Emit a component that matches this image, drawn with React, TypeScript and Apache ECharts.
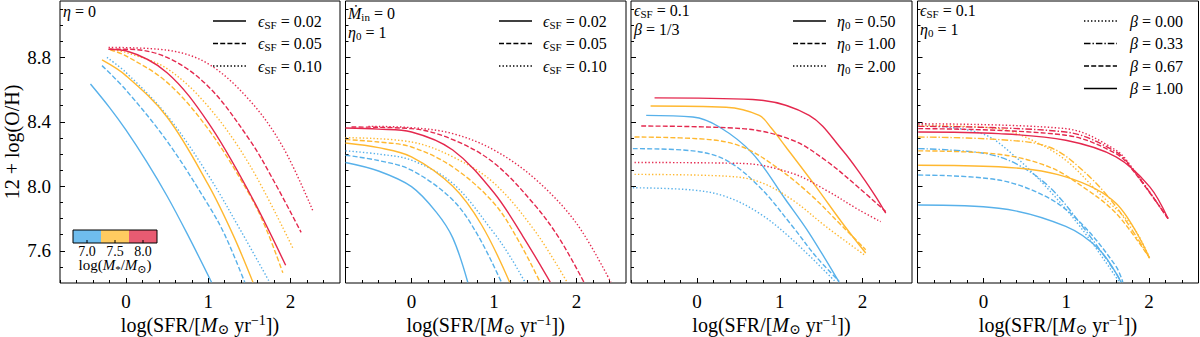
import React, { useEffect, useRef } from 'react';
import * as echarts from 'echarts';

// ---------- tick values & labels ----------
const X_MAJOR = [0, 1, 2];
const X_MINOR = [-0.8, -0.6, -0.4, -0.2, 0.2, 0.4, 0.6, 0.8, 1.2, 1.4, 1.6, 1.8, 2.2, 2.4];
const Y_MAJOR = [7.6, 8.0, 8.4, 8.8];
const Y_MINOR = [7.5, 7.7, 7.8, 7.9, 8.1, 8.2, 8.3, 8.5, 8.6, 8.7, 8.9, 9.0, 9.1];
const MASS_TICKS = ['7.0', '7.5', '8.0'];
const EPS_LABELS = ['0.02', '0.05', '0.10'];
const ETA_LABELS = ['0.50', '1.00', '2.00'];
const BETA_LABELS = ['0.00', '0.33', '0.67', '1.00'];

// ---------- panel 1 : eta = 0 ----------
const p1_m70_e002 = [[-0.43, 8.635], [-0.2, 8.49], [0, 8.35], [0.25, 8.155], [0.5, 7.94], [0.75, 7.7], [1.04, 7.405]];
const p1_m70_e005 = [[-0.29, 8.749], [0, 8.598], [0.5, 8.28], [1.0, 7.885], [1.2, 7.7], [1.443, 7.405]];
const p1_m70_e010 = [[-0.23, 8.8], [0, 8.707], [0.5, 8.44], [1.0, 8.07], [1.4, 7.72], [1.745, 7.405]];
const p1_m75_e002 = [[-0.29, 8.784], [0, 8.687], [0.5, 8.43], [1.0, 8.01], [1.3, 7.7], [1.543, 7.405]];
const p1_m75_e005 = [[-0.19, 8.847], [0, 8.81], [0.5, 8.645], [1.0, 8.355], [1.5, 7.95], [1.7, 7.74], [1.906, 7.463]];
const p1_m75_e010 = [[-0.19, 8.851], [0, 8.831], [0.5, 8.73], [1.0, 8.495], [1.5, 8.135], [2.027, 7.617]];
const p1_m80_e002 = [[-0.21, 8.851], [0, 8.841], [0.5, 8.705], [1.0, 8.395], [1.5, 7.96], [1.94, 7.51]];
const p1_m80_e005 = [[-0.21, 8.851], [0, 8.851], [0.5, 8.8], [1.0, 8.62], [1.5, 8.29], [1.8, 8.03], [2.128, 7.714]];
const p1_m80_e010 = [[-0.21, 8.862], [0.5, 8.845], [1.0, 8.76], [1.5, 8.535], [1.9, 8.25], [2.27, 7.849]];

// ---------- panel 2 : Mdot_in = 0, eta0 = 1 ----------
const p2_m70_e002 = [[-0.8, 8.148], [-0.4, 8.095], [0, 7.998], [0.3, 7.84], [0.5, 7.68], [0.682, 7.405]];
const p2_m70_e005 = [[-0.8, 8.193], [-0.4, 8.16], [0, 8.1], [0.5, 7.915], [0.8, 7.7], [1.09, 7.405]];
const p2_m70_e010 = [[-0.8, 8.22], [-0.4, 8.2], [0, 8.162], [0.5, 8.018], [1.0, 7.71], [1.2, 7.56], [1.376, 7.405]];
const p2_m75_e002 = [[-0.8, 8.269], [-0.4, 8.24], [0, 8.183], [0.5, 8.0], [0.85, 7.76], [1.19, 7.405]];
const p2_m75_e005 = [[-0.8, 8.29], [-0.4, 8.275], [0, 8.244], [0.5, 8.12], [1.0, 7.895], [1.3, 7.66], [1.559, 7.405]];
const p2_m75_e010 = [[-0.8, 8.302], [0, 8.275], [0.5, 8.183], [1.0, 8.02], [1.5, 7.72], [1.886, 7.405]];
const p2_m80_e002 = [[-0.8, 8.362], [-0.4, 8.355], [0, 8.337], [0.5, 8.225], [1.0, 7.96], [1.35, 7.69], [1.682, 7.405]];
const p2_m80_e005 = [[-0.727, 8.368], [0, 8.358], [0.5, 8.29], [1.0, 8.145], [1.5, 7.88], [1.8, 7.67], [2.09, 7.405]];
const p2_m80_e010 = [[-0.522, 8.372], [0, 8.364], [0.5, 8.327], [1.0, 8.225], [1.5, 8.045], [2.0, 7.77], [2.416, 7.405]];

// ---------- panel 3 : eps = 0.1, beta = 1/3 ----------
const p3_m70_h050 = [[-0.616, 8.44], [-0.052, 8.43], [0.27, 8.368], [0.672, 8.203], [1.074, 7.915], [1.356, 7.71], [1.718, 7.405]];
const p3_m70_h100 = [[-0.777, 8.234], [-0.052, 8.22], [0.35, 8.162], [0.752, 7.998], [1.155, 7.751], [1.437, 7.565], [1.718, 7.411]];
const p3_m70_h200 = [[-0.777, 7.991], [-0.052, 7.977], [0.35, 7.936], [0.752, 7.833], [1.155, 7.668], [1.678, 7.405]];
const p3_m75_h050 = [[-0.563, 8.498], [0.35, 8.491], [0.752, 8.44], [0.9, 8.36], [1.074, 8.244], [1.437, 7.998], [1.759, 7.771], [2.04, 7.586]];
const p3_m75_h100 = [[-0.757, 8.306], [0.149, 8.29], [0.551, 8.244], [0.954, 8.121], [1.356, 7.956], [1.759, 7.751], [2.04, 7.607]];
const p3_m75_h200 = [[-0.757, 8.074], [0.35, 8.063], [0.752, 8.028], [1.155, 7.915], [1.557, 7.751], [2.02, 7.576]];
const p3_m80_h050 = [[-0.515, 8.549], [0.672, 8.539], [1.356, 8.44], [1.759, 8.224], [2.0, 8.059], [2.161, 7.936], [2.282, 7.833]];
const p3_m80_h100 = [[-0.676, 8.374], [0.551, 8.358], [1.155, 8.286], [1.557, 8.16], [1.96, 7.99], [2.282, 7.843]];
const p3_m80_h200 = [[-0.757, 8.148], [0.551, 8.142], [1.155, 8.08], [1.557, 7.977], [1.96, 7.853], [2.221, 7.781]];

// ---------- panel 4 : eps = 0.1, eta0 = 1 ----------
const p4_m70_b000 = [[-0.791, 8.384], [-0.02, 8.327], [0.385, 8.183], [0.791, 7.977], [1.197, 7.73], [1.643, 7.405]];
const p4_m70_b033 = [[-0.791, 8.234], [-0.02, 8.207], [0.385, 8.142], [0.791, 7.998], [1.197, 7.751], [1.602, 7.462], [1.663, 7.405]];
const p4_m70_b067 = [[-0.791, 8.07], [0.183, 8.039], [0.791, 7.926], [1.197, 7.761], [1.602, 7.503], [1.684, 7.405]];
const p4_m70_b100 = [[-0.791, 7.884], [0.183, 7.864], [0.994, 7.751], [1.4, 7.607], [1.663, 7.405]];
const p4_m75_b000 = [[-0.791, 8.378], [0.183, 8.358], [0.588, 8.286], [0.994, 8.162], [1.4, 7.956], [1.805, 7.75], [2.008, 7.555]];
const p4_m75_b033 = [[-0.791, 8.306], [0.183, 8.29], [0.791, 8.244], [1.197, 8.1], [1.602, 7.874], [2.008, 7.555]];
const p4_m75_b067 = [[-0.791, 8.22], [0.183, 8.199], [0.791, 8.121], [1.197, 7.998], [1.602, 7.833], [2.008, 7.555]];
const p4_m75_b100 = [[-0.791, 8.131], [0.183, 8.121], [0.994, 8.059], [1.602, 7.895], [2.008, 7.555]];
const p4_m80_b000 = [[-0.791, 8.388], [0.994, 8.358], [1.602, 8.224], [1.805, 8.11], [2.231, 7.8]];
const p4_m80_b033 = [[-0.791, 8.372], [0.994, 8.337], [1.602, 8.214], [1.805, 8.105], [2.231, 7.8]];
const p4_m80_b067 = [[-0.791, 8.358], [0.994, 8.317], [1.602, 8.203], [1.805, 8.1], [2.231, 7.8]];
const p4_m80_b100 = [[-0.791, 8.337], [0.183, 8.327], [0.994, 8.286], [1.602, 8.183], [2.008, 7.998], [2.231, 7.8]];

// ---------- styling ----------
const BLUE = '#58B1EA';
const YELLOW = '#FFB830';
const RED = '#E4284E';
const CB_COLORS = ['#6FBDEE', '#FFCB60', '#E85B72'];
const FONT = '"Liberation Serif", "DejaVu Serif", serif';
const SOLID: any = 'solid';
const DASHED = [5, 2.2];
const DOTTED = [1.4, 2.1];
const DASHDOT = [6.5, 2, 1.4, 2];

const PANELS = [
  { left: 60, width: 280 },
  { left: 345.5, width: 280.5 },
  { left: 631, width: 281 },
  { left: 917.5, width: 281 },
];
const TOP = 1;
const HEIGHT = 282;
const X_RANGE = [-0.8, 2.6];
const Y_RANGE = [7.4, 9.15];

type Curve = { data: number[][]; color: string; dash: any };

const CURVES: Curve[][] = [
  [
    { data: p1_m70_e002, color: BLUE, dash: SOLID },
    { data: p1_m70_e005, color: BLUE, dash: DASHED },
    { data: p1_m70_e010, color: BLUE, dash: DOTTED },
    { data: p1_m75_e002, color: YELLOW, dash: SOLID },
    { data: p1_m75_e005, color: YELLOW, dash: DASHED },
    { data: p1_m75_e010, color: YELLOW, dash: DOTTED },
    { data: p1_m80_e002, color: RED, dash: SOLID },
    { data: p1_m80_e005, color: RED, dash: DASHED },
    { data: p1_m80_e010, color: RED, dash: DOTTED },
  ],
  [
    { data: p2_m70_e002, color: BLUE, dash: SOLID },
    { data: p2_m70_e005, color: BLUE, dash: DASHED },
    { data: p2_m70_e010, color: BLUE, dash: DOTTED },
    { data: p2_m75_e002, color: YELLOW, dash: SOLID },
    { data: p2_m75_e005, color: YELLOW, dash: DASHED },
    { data: p2_m75_e010, color: YELLOW, dash: DOTTED },
    { data: p2_m80_e002, color: RED, dash: SOLID },
    { data: p2_m80_e005, color: RED, dash: DASHED },
    { data: p2_m80_e010, color: RED, dash: DOTTED },
  ],
  [
    { data: p3_m70_h050, color: BLUE, dash: SOLID },
    { data: p3_m70_h100, color: BLUE, dash: DASHED },
    { data: p3_m70_h200, color: BLUE, dash: DOTTED },
    { data: p3_m75_h050, color: YELLOW, dash: SOLID },
    { data: p3_m75_h100, color: YELLOW, dash: DASHED },
    { data: p3_m75_h200, color: YELLOW, dash: DOTTED },
    { data: p3_m80_h050, color: RED, dash: SOLID },
    { data: p3_m80_h100, color: RED, dash: DASHED },
    { data: p3_m80_h200, color: RED, dash: DOTTED },
  ],
  [
    { data: p4_m70_b000, color: BLUE, dash: DOTTED },
    { data: p4_m70_b033, color: BLUE, dash: DASHDOT },
    { data: p4_m70_b067, color: BLUE, dash: DASHED },
    { data: p4_m70_b100, color: BLUE, dash: SOLID },
    { data: p4_m75_b000, color: YELLOW, dash: DOTTED },
    { data: p4_m75_b033, color: YELLOW, dash: DASHDOT },
    { data: p4_m75_b067, color: YELLOW, dash: DASHED },
    { data: p4_m75_b100, color: YELLOW, dash: SOLID },
    { data: p4_m80_b000, color: RED, dash: DOTTED },
    { data: p4_m80_b033, color: RED, dash: DASHDOT },
    { data: p4_m80_b067, color: RED, dash: DASHED },
    { data: p4_m80_b100, color: RED, dash: SOLID },
  ],
];

function rich(size: number) {
  return {
    r: { fontFamily: FONT, fontSize: size, fill: '#000' },
    i: { fontFamily: FONT, fontSize: size, fontStyle: 'italic', fill: '#000' },
    s: { fontFamily: FONT, fontSize: Math.round(size * 0.7), padding: [Math.round(size * 0.45), 0, 0, 0], fill: '#000' },
    p: { fontFamily: FONT, fontSize: Math.round(size * 0.7), padding: [0, 0, Math.round(size * 0.5), 0], fill: '#000' },
  };
}

function txt(x: number, y: number, text: string, size: number, align = 'left', extra: any = {}) {
  return {
    type: 'text',
    silent: true,
    ...extra,
    style: {
      x, y, text,
      fontFamily: FONT, fontSize: size, fill: '#000',
      align, verticalAlign: 'middle',
      rich: rich(size),
    },
  };
}

function legendRows(lineX: number, labelX: number, rows: { label: string; dash: any }[], y0: number, dy: number) {
  const out: any[] = [];
  rows.forEach((r, k) => {
    const y = y0 + k * dy;
    out.push({
      type: 'line', silent: true,
      shape: { x1: lineX, y1: y, x2: lineX + 33, y2: y },
      style: { stroke: '#000', lineWidth: 1.5, lineDash: r.dash === SOLID ? null : r.dash },
    });
    out.push(txt(labelX, y, r.label, 16));
  });
  return out;
}

export default function App() {
  const ref = useRef<HTMLDivElement>(null);
  useEffect(() => {
    if (!ref.current) return;
    document.body.style.margin = '0';
    const chart = echarts.init(ref.current, undefined, { renderer: 'svg', width: 1200, height: 337 });

    const grid: any[] = [];
    const xAxis: any[] = [];
    const yAxis: any[] = [];
    const series: any[] = [];

    const addGrid = (p: { left: number; width: number }, visible: boolean, xTicks: number[], yTicks: number[], tickLen: number, labels: { x: boolean; y: boolean }) => {
      const gi = grid.length;
      grid.push({ left: p.left, top: TOP, width: p.width, height: HEIGHT, show: visible, borderColor: '#000', borderWidth: 1, backgroundColor: 'transparent' });
      xAxis.push({
        gridIndex: gi, type: 'value', min: X_RANGE[0], max: X_RANGE[1], position: 'bottom',
        axisLine: { show: false, onZero: false }, splitLine: { show: false },
        axisTick: { show: true, inside: true, length: tickLen, customValues: xTicks, lineStyle: { color: '#000', width: 1 } },
        axisLabel: { show: labels.x, customValues: xTicks, fontFamily: FONT, fontSize: 19, color: '#000', margin: 9, formatter: (v: number) => String(Math.round(v)) },
      });
      yAxis.push({
        gridIndex: gi, type: 'value', min: Y_RANGE[0], max: Y_RANGE[1], position: 'left',
        axisLine: { show: false, onZero: false }, splitLine: { show: false },
        axisTick: { show: true, inside: true, length: tickLen, customValues: yTicks, lineStyle: { color: '#000', width: 1 } },
        axisLabel: { show: labels.y, customValues: yTicks, fontFamily: FONT, fontSize: 19, color: '#000', margin: 9, formatter: (v: number) => v.toFixed(1) },
      });
      return gi;
    };

    PANELS.forEach((p, i) => {
      const gi = addGrid(p, true, X_MAJOR, Y_MAJOR, 5, { x: true, y: i === 0 });
      addGrid(p, false, X_MINOR, Y_MINOR, 3, { x: false, y: false });
      CURVES[i].forEach((c) => {
        series.push({
          type: 'line', xAxisIndex: gi, yAxisIndex: gi,
          data: c.data, smooth: 0.35, showSymbol: false, symbol: 'none', silent: true,
          clip: true,
          lineStyle: { color: c.color, width: 1.4, type: c.dash },
        });
      });
    });

    const graphic: any[] = [];
    PANELS.forEach((p) => {
      graphic.push(txt(p.left + p.width / 2, 325, '{r|log(SFR/[}{i|M}{s|⊙}{r| yr}{p|−1}{r|])}', 20, 'center'));
    });
    graphic.push({
      type: 'text', silent: true, x: 12, y: 142, rotation: Math.PI / 2,
      style: { x: 0, y: 0, text: '12 + log(O/H)', fontFamily: FONT, fontSize: 20, fill: '#000', align: 'center', verticalAlign: 'middle' },
    });

    graphic.push(txt(63, 11, '{i|η}{r| = 0}', 16));
    graphic.push(txt(348, 13, '{i|Ṁ}{s|in}{r| = 0}', 16));
    graphic.push(txt(348, 32, '{i|η}{s|0}{r| = 1}', 16));
    graphic.push(txt(634, 10, '{i|ϵ}{s|SF}{r| = 0.1}', 16));
    graphic.push(txt(634, 29, '{i|β}{r| = 1/3}', 16));
    graphic.push(txt(920, 10, '{i|ϵ}{s|SF}{r| = 0.1}', 16));
    graphic.push(txt(920, 29, '{i|η}{s|0}{r| = 1}', 16));

    const epsRows = EPS_LABELS.map((l, k) => ({ label: `{i|ϵ}{s|SF}{r| = ${l}}`, dash: [SOLID, DASHED, DOTTED][k] }));
    graphic.push(...legendRows(213, 258, epsRows, 21, 22.5));
    graphic.push(...legendRows(499, 543, epsRows, 21, 22.5));
    const etaRows = ETA_LABELS.map((l, k) => ({ label: `{i|η}{s|0}{r| = ${l}}`, dash: [SOLID, DASHED, DOTTED][k] }));
    graphic.push(...legendRows(793, 837, etaRows, 21, 22.5));
    const betaRows = BETA_LABELS.map((l, k) => ({ label: `{i|β}{r| = ${l}}`, dash: [DOTTED, DASHDOT, DASHED, SOLID][k] }));
    graphic.push(...legendRows(1084, 1130, betaRows, 21, 22.5));

    const cbX = 73, cbY = 230, cbW = 84, cbH = 13;
    CB_COLORS.forEach((c, k) => {
      graphic.push({ type: 'rect', silent: true, shape: { x: cbX + (k * cbW) / 3, y: cbY, width: cbW / 3, height: cbH }, style: { fill: c } });
    });
    graphic.push({ type: 'rect', silent: true, shape: { x: cbX, y: cbY, width: cbW, height: cbH }, style: { fill: 'none', stroke: '#000', lineWidth: 1 } });
    MASS_TICKS.forEach((t, k) => {
      const x = cbX + cbW / 6 + (k * cbW) / 3;
      graphic.push({ type: 'line', silent: true, shape: { x1: x, y1: cbY + cbH, x2: x, y2: cbY + cbH - 3 }, style: { stroke: '#000', lineWidth: 1 } });
      graphic.push(txt(x, 251, t, 14, 'center'));
    });
    graphic.push(txt(cbX + cbW / 2, 265, '{r|log(}{i|M}{s|*}{r|/}{i|M}{s|⊙}{r|)}', 15, 'center'));

    chart.setOption({
      animation: false,
      backgroundColor: '#fff',
      grid, xAxis, yAxis, series, graphic,
    });
    return () => chart.dispose();
  }, []);
  return <div ref={ref} style={{ width: 1200, height: 337 }} />;
}
